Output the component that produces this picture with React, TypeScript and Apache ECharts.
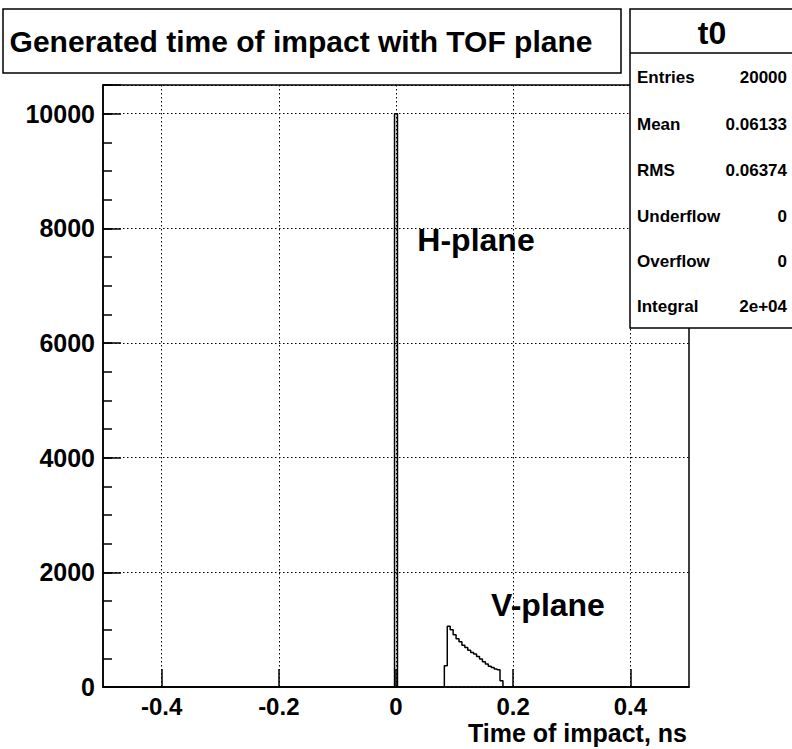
import React, { useEffect, useRef } from "react";
import * as echarts from "echarts";

// ---- data ----
const binWidth = 0.005;
const hPlaneBinLow = -0.0025;
const hPlaneCounts = [10000];
const vPlaneBinLow = 0.0825;
const vPlaneCounts = [
  370, 1060, 1000, 910, 840, 790, 730, 690, 640, 600,
  575, 530, 490, 440, 400, 360, 340, 315, 300, 110,
];
const xRange = [-0.5, 0.5];
const yRange = [0, 10500];
const xTickValues = [-0.4, -0.2, 0, 0.2, 0.4];
const statsLabels = ["Entries", "Mean", "RMS", "Underflow", "Overflow", "Integral"];
const statsValues = ["20000", "0.06133", "0.06374", "0", "0", "2e+04"];
const titleText = "Generated time of impact with TOF plane";
const statsTitle = "t0";
const xAxisTitle = "Time of impact, ns";
const hLabel = "H-plane";
const vLabel = "V-plane";

const FONT = '"Liberation Sans", Arial, Helvetica, sans-serif';

function groupOutline(low: number, counts: number[]): [number, number][] {
  const pts: [number, number][] = [];
  pts.push([low, 0]);
  counts.forEach((c, i) => {
    const lo = low + i * binWidth;
    const hi = lo + binWidth;
    pts.push([lo, c]);
    pts.push([hi, c]);
  });
  pts.push([low + counts.length * binWidth, 0]);
  return pts;
}

function buildOutline(): [number, number][] {
  return [
    [xRange[0], 0],
    ...groupOutline(hPlaneBinLow, hPlaneCounts),
    ...groupOutline(vPlaneBinLow, vPlaneCounts),
    [xRange[1], 0],
  ];
}

export default function App() {
  const ref = useRef<HTMLDivElement>(null);
  useEffect(() => {
    document.body.style.margin = "0";
    if (!ref.current) return;
    const chart = echarts.init(ref.current, null, { renderer: "svg" });

    const statsRowY = [77, 124, 170, 216, 261, 306];
    const statsGraphics: any[] = [];
    statsLabels.forEach((l, i) => {
      statsGraphics.push({
        type: "text",
        z: 110,
        style: {
          text: l,
          x: 637,
          y: statsRowY[i],
          fill: "#000",
          font: `bold 17px ${FONT}`,
          textAlign: "left",
          textVerticalAlign: "middle",
        },
      });
      statsGraphics.push({
        type: "text",
        z: 110,
        style: {
          text: statsValues[i],
          x: 787,
          y: statsRowY[i],
          fill: "#000",
          font: `bold 17px ${FONT}`,
          textAlign: "right",
          textVerticalAlign: "middle",
        },
      });
    });

    const option: any = {
      animation: false,
      backgroundColor: "#fff",
      grid: {
        left: 103,
        right: 103,
        top: 85,
        bottom: 62,
        show: true,
        borderColor: "#000",
        borderWidth: 1.5,
        backgroundColor: "transparent",
      },
      xAxis: {
        type: "value",
        min: xRange[0],
        max: xRange[1],
        interval: 0.1,
        axisLine: { show: true, onZero: false, lineStyle: { color: "#000", width: 1.5 } },
        axisTick: {
          show: true,
          inside: true,
          length: 18,
          customValues: xTickValues,
          lineStyle: { color: "#000", width: 1.5 },
        },
        axisLabel: {
          show: true,
          customValues: xTickValues,
          color: "#000",
          fontFamily: FONT,
          fontWeight: "bold",
          fontSize: 24,
          margin: 7,
          formatter: (v: number) => String(Math.round(v * 10) / 10),
        },
        splitLine: {
          show: true,
          lineStyle: {
            color: "#000",
            type: [1.5, 2.5],
            width: 1,
          },
        },
      },
      yAxis: [
        {
          type: "value",
          min: yRange[0],
          max: yRange[1],
          interval: 2000,
          axisLine: { show: true, onZero: false, lineStyle: { color: "#000", width: 1.5 } },
          axisTick: { show: true, inside: true, length: 18, lineStyle: { color: "#000", width: 1.5 } },
          axisLabel: {
            color: "#000",
            fontFamily: FONT,
            fontWeight: "bold",
            fontSize: 25,
            margin: 8,
            formatter: (v: number) => (v > 10000 ? "" : String(v)),
          },
          splitLine: {
            show: true,
            lineStyle: { color: "#000", type: [1.5, 2.5], width: 1 },
          },
        },
        {
          type: "value",
          min: yRange[0],
          max: yRange[1],
          interval: 500,
          position: "left",
          axisLine: { show: false, onZero: false },
          axisTick: { show: true, inside: true, length: 9, lineStyle: { color: "#000", width: 1.5 } },
          axisLabel: { show: false },
          splitLine: { show: false },
        },
      ],
      series: [
        {
          type: "line",
          xAxisIndex: 0,
          yAxisIndex: 0,
          data: buildOutline(),
          showSymbol: false,
          symbol: "none",
          lineStyle: { color: "#000", width: 1.5 },
          z: 5,
        },
      ],
      graphic: [
        {
          type: "rect",
          z: 100,
          shape: { x: 3, y: 9, width: 618, height: 64 },
          style: { fill: "#fff", stroke: "#000", lineWidth: 1.5 },
        },
        {
          type: "text",
          z: 110,
          style: {
            text: titleText,
            x: 301,
            y: 41,
            fill: "#000",
            font: `bold 30px ${FONT}`,
            textAlign: "center",
            textVerticalAlign: "middle",
          },
        },
        {
          type: "rect",
          z: 100,
          shape: { x: 630, y: 9, width: 170, height: 319 },
          style: { fill: "#fff", stroke: "#000", lineWidth: 1.5 },
        },
        {
          type: "line",
          z: 105,
          shape: { x1: 630, y1: 53, x2: 800, y2: 53 },
          style: { stroke: "#000", lineWidth: 1.5 },
        },
        {
          type: "text",
          z: 110,
          style: {
            text: statsTitle,
            x: 712,
            y: 33,
            fill: "#000",
            font: `bold 32px ${FONT}`,
            textAlign: "center",
            textVerticalAlign: "middle",
          },
        },
        ...statsGraphics,
        {
          type: "text",
          z: 110,
          style: {
            text: hLabel,
            x: 476,
            y: 240,
            fill: "#000",
            font: `bold 32px ${FONT}`,
            textAlign: "center",
            textVerticalAlign: "middle",
          },
        },
        {
          type: "text",
          z: 110,
          style: {
            text: vLabel,
            x: 548,
            y: 605,
            fill: "#000",
            font: `bold 32px ${FONT}`,
            textAlign: "center",
            textVerticalAlign: "middle",
          },
        },
        {
          type: "text",
          z: 110,
          style: {
            text: xAxisTitle,
            x: 687,
            y: 733,
            fill: "#000",
            font: `bold 25px ${FONT}`,
            textAlign: "right",
            textVerticalAlign: "middle",
          },
        },
      ],
    };
    chart.setOption(option);
    return () => chart.dispose();
  }, []);
  return (
    <div
      ref={ref}
      style={{ position: "absolute", left: 0, top: 0, width: 792, height: 749 }}
    />
  );
}
